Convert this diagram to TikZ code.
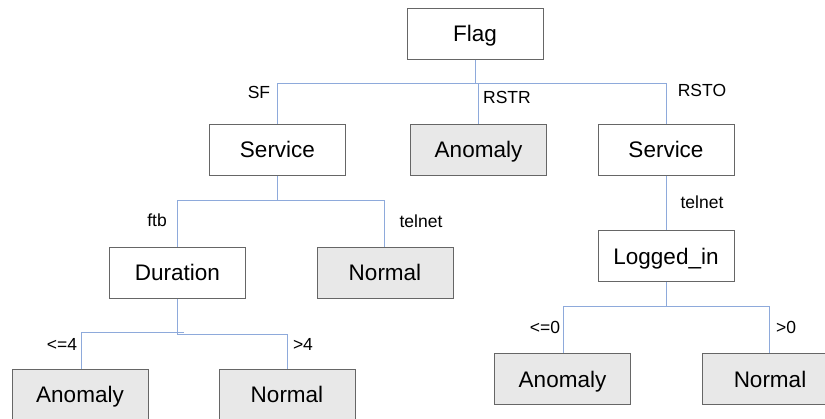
\documentclass[tikz,border=0pt]{standalone}
\usepackage{fontspec}
\setmainfont{Liberation Sans}
\definecolor{edgeblue}{RGB}{142,170,219}
\definecolor{boxline}{RGB}{102,102,102}
\definecolor{leaffill}{RGB}{232,232,232}
\tikzset{
  testbox/.style={draw=boxline, line width=1pt, fill=white, rectangle,
    minimum width=136pt, minimum height=51pt, inner sep=0pt,
    font=\fontsize{22.5}{26}\selectfont, text height=16pt, text depth=0pt},
  leafbox/.style={testbox, fill=leaffill},
  branch/.style={draw=edgeblue, line width=1pt},
  lbl/.style={inner sep=0pt, font=\fontsize{17.5}{20}\selectfont}
}
\begin{document}
\begin{tikzpicture}[x=1pt,y=-1pt]
\useasboundingbox (0,0) rectangle (825,418);
\begin{scope}
\clip (0,0) rectangle (825,418);

% bus points of the orthogonal connectors
\coordinate (fbarL) at (277,83);
\coordinate (fbarR) at (666,83);
\coordinate (fbarM) at (478,83);
\coordinate (sbarL) at (177,200);
\coordinate (sbarR) at (384,200);
\coordinate (dbarL) at (81,332);
\coordinate (dbarLend) at (184,332);
\coordinate (dbarS) at (177,334);
\coordinate (dbarR) at (287,334);
\coordinate (lbarL) at (563,306);
\coordinate (lbarR) at (769,306);

% tests and leaves
\node[testbox] (flag)   at (475,33.5)  {Flag};
\node[testbox] (svcL)   at (277.5,149.5) {Service};
\node[leafbox] (anomM)  at (478.5,149.5) {Anomaly};
\node[testbox] (svcR)   at (666,149.5) {Service};
\node[testbox] (dur)    at (177.5,272.5) {Duration};
\node[leafbox] (normL)  at (385,272.5) {Normal};
\node[testbox] (logged) at (666,256)   {Logged\_in};
\node[leafbox] (anomBL) at (80,394.5)  {Anomaly};
\node[leafbox] (normBL) at (287,394.5) {Normal};
\node[leafbox] (anomBR) at (562.5,379) {Anomaly};
\node[leafbox] (normBR) at (770,379)   {Normal};

% Flag split
\draw[branch] (flag.south) -- (flag.south |- fbarL);
\draw[branch] (svcL.north -| fbarL) |- (fbarR) -- (svcR.north -| fbarR);
\draw[branch] (fbarM) -- (anomM.north -| fbarM);

% Service (SF) split
\draw[branch] (svcL.south) -- (svcL.south |- sbarL);
\draw[branch] (dur.north -| sbarL) |- (sbarR) -- (normL.north -| sbarR);

% Duration split
\draw[branch] (dur.south -| dbarS) -- (dbarS);
\draw[branch] (anomBL.north -| dbarL) -- (dbarL) -- (dbarLend);
\draw[branch] (dbarS) -- (dbarR) -- (normBL.north -| dbarR);

% Service (RSTO) to Logged_in
\draw[branch] (svcR.south) -- (logged.north);

% Logged_in split
\draw[branch] (logged.south) -- (logged.south |- lbarL);
\draw[branch] (anomBR.north -| lbarL) |- (lbarR) -- (normBR.north -| lbarR);
\end{scope}

% branch labels
\node[lbl] (tSF)   at (259,92)  {SF};
\node[lbl] (tRSTR) at (507,97)  {RSTR};
\node[lbl] (tRSTO) at (702,90)  {RSTO};
\node[lbl] (tftb)  at (157,220) {ftb};
\node[lbl] (ttelL) at (421,221) {telnet};
\node[lbl] (tle4)  at (62,344)  {<=4};
\node[lbl] (tgt4)  at (303,344) {>4};
\node[lbl] (ttelR) at (702,202) {telnet};
\node[lbl] (tle0)  at (545,327) {<=0};
\node[lbl] (tgt0)  at (786,327) {>0};
\end{tikzpicture}
\end{document}
